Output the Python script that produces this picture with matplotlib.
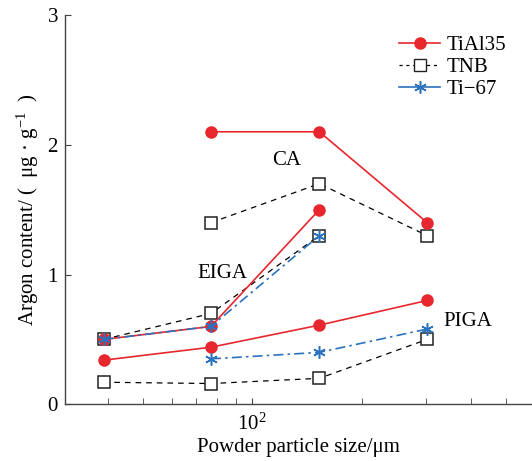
import numpy as np
import matplotlib
matplotlib.use("Agg")
import matplotlib.pyplot as plt
from matplotlib.ticker import NullFormatter, LogLocator, FixedLocator

plt.rcParams['font.family'] = ['Liberation Serif', 'DejaVu Serif']
plt.rcParams['mathtext.fontset'] = 'custom'
plt.rcParams['mathtext.rm'] = 'Liberation Serif'
plt.rcParams['mathtext.it'] = 'Liberation Serif:italic'

# particle sizes (um)
size = [39, 77, 153, 303]

# CA
ca_tial35 = [2.1, 2.1, 1.4]
ca_tnb = [1.4, 1.7, 1.3]
# EIGA
eiga_tial35 = [0.5, 0.6, 1.5]
eiga_tnb = [0.5, 0.7, 1.3]
eiga_ti67 = [0.5, 0.6, 1.3]
# PIGA
piga_tial35 = [0.34, 0.44, 0.61, 0.8]
piga_tnb = [0.17, 0.16, 0.2, 0.5]
piga_ti67 = [0.35, 0.4, 0.58]

red = '#e8262d'
blue = '#2a72bd'
star = (6, 2, 0)

fig = plt.figure(figsize=(5.32, 4.61), dpi=100)
ax = fig.add_axes([0.122, 0.123, 0.878, 0.8445])

def red_line(x, y, label=None):
	ax.plot(x, y, '-', color=red, lw=1.2, marker='o', ms=8, mfc=red, mec=red, label=label)

def tnb_line(x, y, label=None):
	ax.plot(x, y, '--', color='black', lw=0.9, dashes=(4.5, 4), marker='s', ms=8.5,
		mfc='white', mec='#222222', mew=1.1, label=label)

def blue_line(x, y, label=None):
	ax.plot(x, y, '-.', color=blue, lw=1.2, dashes=(6, 2.5, 1.5, 2.5), marker=star, ms=9,
		mfc=blue, mec=blue, mew=1.1, label=label)

# CA
tnb_line(size[1:], ca_tnb)
red_line(size[1:], ca_tial35)
# EIGA
tnb_line(size[:3], eiga_tnb)
red_line(size[:3], eiga_tial35)
blue_line(size[:3], eiga_ti67)
# PIGA
tnb_line(size, piga_tnb)
red_line(size, piga_tial35)
blue_line(size[1:], piga_ti67)

# legend handles
h1, = ax.plot([], [], '-', color=red, lw=1.2, marker='o', ms=8, mfc=red, mec=red)
h2, = ax.plot([], [], '--', color='black', lw=0.9, dashes=(2.5, 3), marker='s', ms=8.5, mfc='white', mec='#222222')
h3, = ax.plot([], [], '-', color=blue, lw=1.2, marker=star, ms=9, mfc=blue, mec=blue, mew=1.1)
ax.legend([h1, h2, h3], ['TiAl35', 'TNB', 'Ti\u221267'], loc='upper right', frameon=False,
	fontsize=15, handlelength=2.0, handletextpad=0.3, labelspacing=0.12,
	bbox_to_anchor=(0.985, 0.995))

ax.text(124, 1.88, 'CA', fontsize=15, ha='center', va='center')
ax.text(83, 1.01, 'EIGA', fontsize=15, ha='center', va='center')
ax.text(392, 0.64, 'PIGA', fontsize=15, ha='center', va='center')

ax.set_xscale('log')
ax.set_xlim(30.5, 589)
ax.set_ylim(0, 3)
ax.xaxis.set_major_locator(FixedLocator([100]))
ax.xaxis.set_minor_locator(LogLocator(base=10, subs=np.arange(2, 10)))
ax.xaxis.set_minor_formatter(NullFormatter())
ax.set_yticks([0, 1, 2, 3])
ax.set_yticklabels(['0', '1', '2', '3'])

for s in ['top', 'right']:
	ax.spines[s].set_visible(False)
for s in ['left', 'bottom']:
	ax.spines[s].set_color('#444444')
	ax.spines[s].set_linewidth(1.0)
ax.tick_params(which='both', direction='in', color='#444444', labelsize=15)
ax.tick_params(axis='x', pad=7)
ax.tick_params(axis='y', pad=5)
ax.tick_params(which='major', length=4)
ax.tick_params(which='minor', length=4)

ax.set_xlabel('Powder particle size/\u03bcm', fontsize=15, labelpad=2)
ax.set_ylabel('Argon content/ (  \u03bcg \u00b7 g$^{-1}$  )', fontsize=15, labelpad=5)

fig.savefig('out.png', dpi=100)
